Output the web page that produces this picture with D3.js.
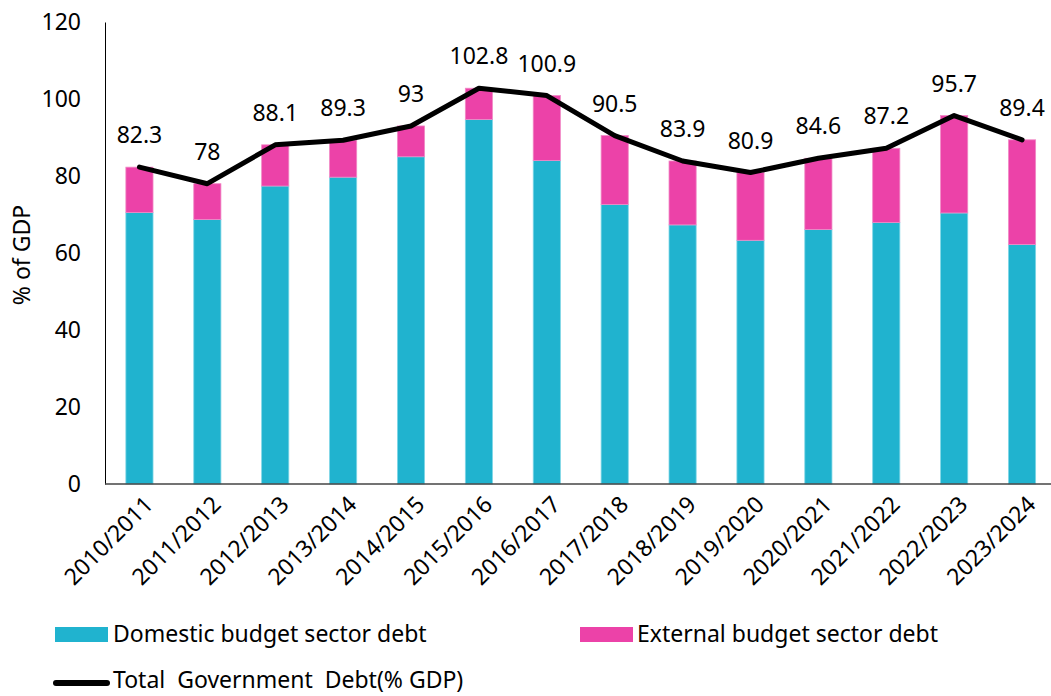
<!DOCTYPE html>
<meta charset="utf-8">
<style>
body { margin: 0; background: #fff; }
text { font-family: "Noto Sans", "Open Sans", sans-serif; fill: #000; }
</style>
<svg width="1051" height="696"></svg>
<script src="https://cdnjs.cloudflare.com/ajax/libs/d3/7.8.5/d3.min.js"></script>
<script>

var years = ["2010/2011", "2011/2012", "2012/2013", "2013/2014", "2014/2015", "2015/2016", "2016/2017",
             "2017/2018", "2018/2019", "2019/2020", "2020/2021", "2021/2022", "2022/2023", "2023/2024"];
var total = [82.3, 78, 88.1, 89.3, 93, 102.8, 100.9, 90.5, 83.9, 80.9, 84.6, 87.2, 95.7, 89.4];
var domestic = [70.5, 68.7, 77.4, 79.7, 85.0, 94.7, 84.0, 72.6, 67.3, 63.3, 66.1, 67.9, 70.4, 62.2];
var yTicks = [0, 20, 40, 60, 80, 100, 120];

var cyan = "#20b3cf", pink = "#ec42a8";

var svg = d3.select("svg");

var x = d3.scaleBand()
    .domain(years)
    .range([105.5, 1056])
    .paddingInner(0.6)
    .paddingOuter(0.3);

var y = d3.scaleLinear()
    .domain([0, 120])
    .range([484, 22]);

// y axis
var yAxis = svg.append("g")
    .attr("transform", "translate(105,0)")
    .call(d3.axisLeft(y).tickValues(yTicks).tickSize(0).tickPadding(24));
yAxis.select(".domain").attr("stroke", "#000").attr("stroke-width", 1);
yAxis.selectAll("text").style("font-size", "23px").attr("font-family", null);

svg.append("text")
    .attr("transform", "translate(30,255) rotate(-90)")
    .attr("text-anchor", "middle")
    .style("font-size", "23px")
    .text("% of GDP");

// bars
var bars = svg.append("g");
bars.selectAll("rect.dom")
  .data(years)
  .enter().append("rect")
    .attr("class", "dom")
    .attr("x", function(d) { return x(d); })
    .attr("width", x.bandwidth())
    .attr("y", function(d, i) { return y(domestic[i]); })
    .attr("height", function(d, i) { return y(0) - y(domestic[i]); })
    .attr("fill", cyan)
    .attr("stroke", "#7fd6e6")
    .attr("stroke-width", 0.8);

bars.selectAll("rect.ext")
  .data(years)
  .enter().append("rect")
    .attr("class", "ext")
    .attr("x", function(d) { return x(d); })
    .attr("width", x.bandwidth())
    .attr("y", function(d, i) { return y(total[i]); })
    .attr("height", function(d, i) { return y(domestic[i]) - y(total[i]); })
    .attr("fill", pink)
    .attr("stroke", "#f08ac6")
    .attr("stroke-width", 0.8);

// x axis
var xAxis = svg.append("g")
    .attr("transform", "translate(0,484)")
    .call(d3.axisBottom(x).tickSize(0).tickPadding(0));
xAxis.select(".domain").attr("stroke", "#444").attr("stroke-width", 1.5)
    .attr("d", "M105,0H1051");
xAxis.selectAll(".tick text")
    .attr("font-family", null)
    .style("font-size", "23px")
    .attr("text-anchor", "end")
    .attr("y", 0)
    .attr("dy", "0")
    .attr("transform", "translate(15,22) rotate(-45)");

// total line
var line = d3.line()
    .x(function(d, i) { return x(years[i]) + x.bandwidth() / 2; })
    .y(function(d) { return y(d); });

svg.append("path")
    .datum(total)
    .attr("d", line)
    .attr("fill", "none")
    .attr("stroke", "#000")
    .attr("stroke-width", 5)
    .attr("stroke-linejoin", "round")
    .attr("stroke-linecap", "round");

svg.append("g").selectAll("text")
  .data(total)
  .enter().append("text")
    .attr("x", function(d, i) { return x(years[i]) + x.bandwidth() / 2; })
    .attr("y", function(d) { return y(d) - 24; })
    .attr("text-anchor", "middle")
    .style("font-size", "23px")
    .text(function(d) { return d; });

// legend
var legend = svg.append("g").style("font-size", "23px");
legend.append("rect").attr("x", 55).attr("y", 627).attr("width", 53).attr("height", 15).attr("fill", cyan);
legend.append("text").attr("x", 113).attr("y", 642).text("Domestic budget sector debt");
legend.append("rect").attr("x", 580).attr("y", 627).attr("width", 53).attr("height", 15).attr("fill", pink);
legend.append("text").attr("x", 637).attr("y", 642).text("External budget sector debt");
legend.append("line").attr("x1", 56).attr("x2", 107).attr("y1", 683).attr("y2", 683)
    .attr("stroke", "#000").attr("stroke-width", 6).attr("stroke-linecap", "round");
legend.append("text").attr("x", 113).attr("y", 688).attr("xml:space", "preserve")
    .text("Total  Government  Debt(% GDP)");

</script>
